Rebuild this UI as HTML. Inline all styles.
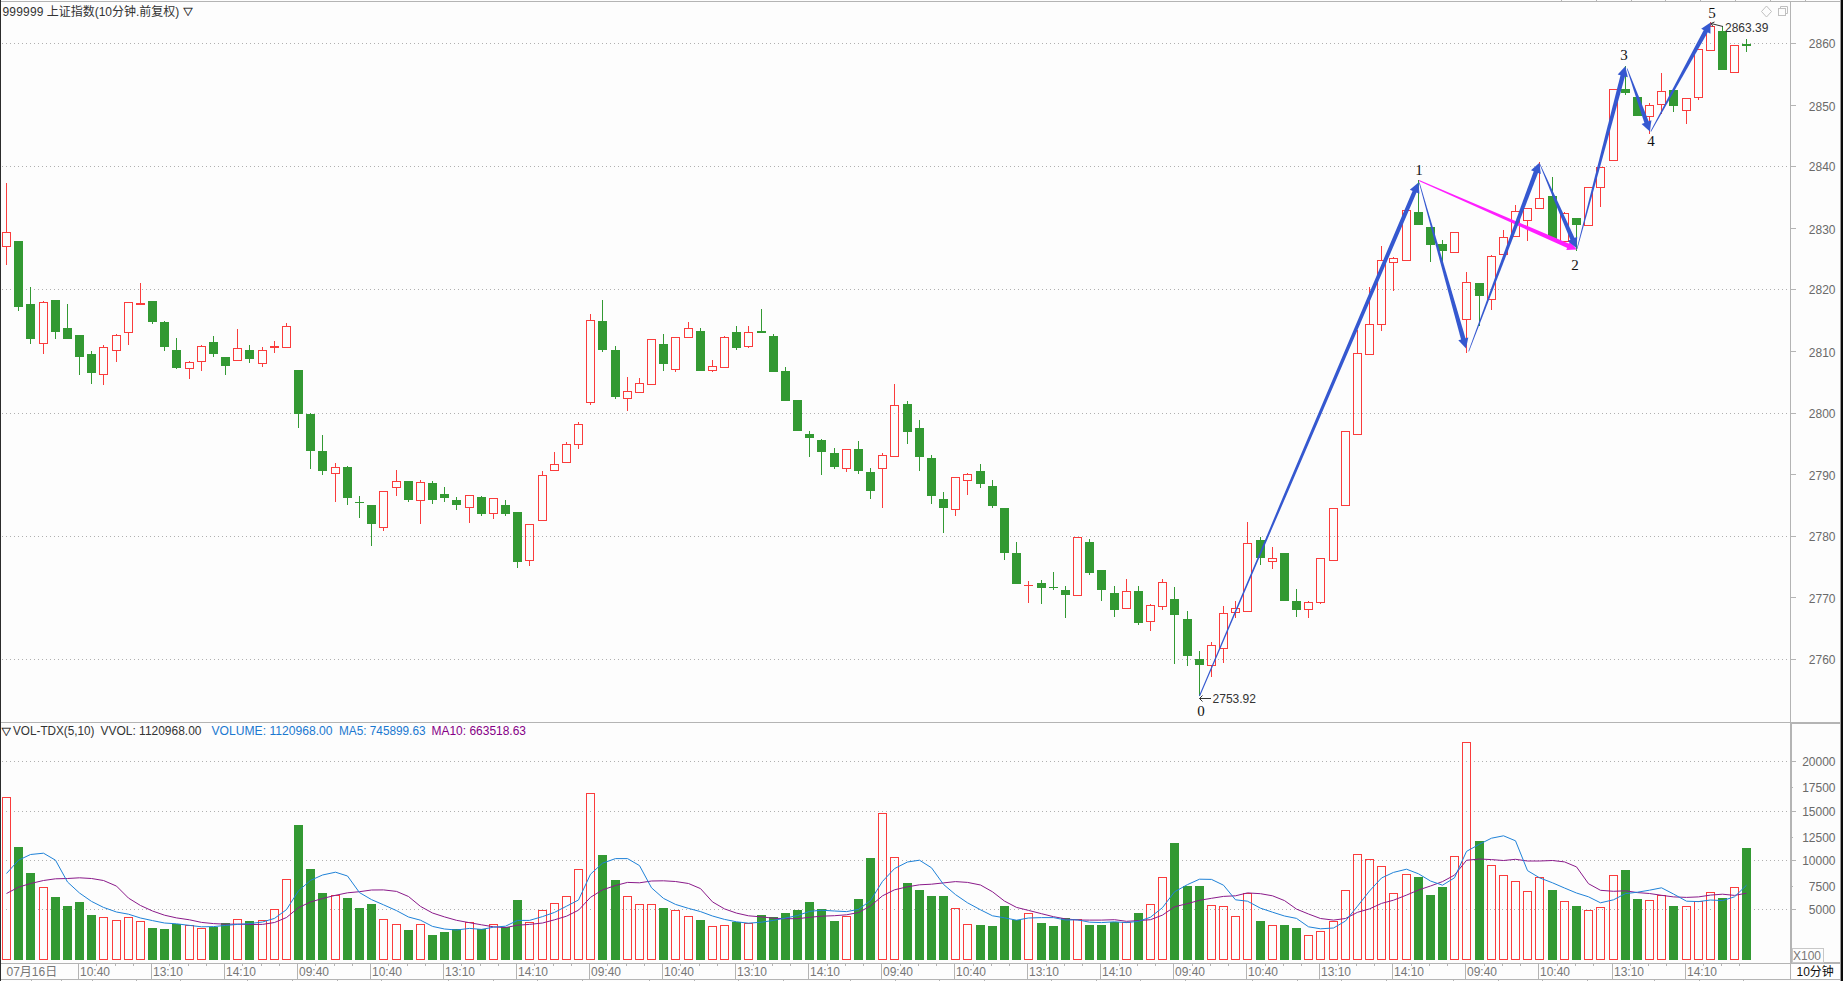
<!DOCTYPE html>
<html lang="zh-CN"><head><meta charset="utf-8"><title>999999 上证指数</title>
<style>html,body{margin:0;padding:0;background:#fdfdfd;width:1843px;height:981px;overflow:hidden}</style>
</head><body>
<svg width="1843" height="981" viewBox="0 0 1843 981" style="position:absolute;left:0;top:0;display:block">
<rect x="0" y="0" width="1843" height="981" fill="#fdfdfd"/>
<g stroke="#b0b0b0" stroke-width="1" stroke-dasharray="1 3" shape-rendering="crispEdges">
<line x1="2" y1="43.5" x2="1788" y2="43.5"/>
<line x1="2" y1="166.5" x2="1788" y2="166.5"/>
<line x1="2" y1="289.5" x2="1788" y2="289.5"/>
<line x1="2" y1="413.5" x2="1788" y2="413.5"/>
<line x1="2" y1="536.5" x2="1788" y2="536.5"/>
<line x1="2" y1="659.5" x2="1788" y2="659.5"/>
<line x1="2" y1="761.5" x2="1788" y2="761.5"/>
<line x1="2" y1="811.5" x2="1788" y2="811.5"/>
<line x1="2" y1="860.5" x2="1788" y2="860.5"/>
<line x1="2" y1="909.5" x2="1788" y2="909.5"/>
</g>
<g shape-rendering="crispEdges">
<rect x="0" y="0" width="1" height="981" fill="#2c2c2c"/>
<rect x="1" y="1" width="1840" height="1" fill="#b4b4b4"/>
<rect x="1790" y="2" width="1" height="720" fill="#b4b4b4"/>
<rect x="1790" y="722" width="2" height="241" fill="#b4b4b4"/>
<rect x="1790" y="963" width="1" height="17" fill="#b4b4b4"/>
<rect x="1" y="722" width="1790" height="1" fill="#b4b4b4"/>
<rect x="1790" y="722" width="51" height="2" fill="#b4b4b4"/>
<rect x="1" y="963" width="1790" height="1" fill="#b4b4b4"/>
<rect x="1790" y="962" width="51" height="2" fill="#b4b4b4"/>
<rect x="1" y="979" width="1840" height="1" fill="#b4b4b4"/>
<rect x="1840" y="0" width="1" height="981" fill="#9a9a9a"/>
<rect x="1841" y="0" width="2" height="981" fill="#0a0a0a"/>
<rect x="1791" y="43" width="5" height="1" fill="#b4b4b4"/>
<rect x="1791" y="105" width="5" height="1" fill="#b4b4b4"/>
<rect x="1791" y="166" width="5" height="1" fill="#b4b4b4"/>
<rect x="1791" y="228" width="5" height="1" fill="#b4b4b4"/>
<rect x="1791" y="289" width="5" height="1" fill="#b4b4b4"/>
<rect x="1791" y="351" width="5" height="1" fill="#b4b4b4"/>
<rect x="1791" y="413" width="5" height="1" fill="#b4b4b4"/>
<rect x="1791" y="474" width="5" height="1" fill="#b4b4b4"/>
<rect x="1791" y="536" width="5" height="1" fill="#b4b4b4"/>
<rect x="1791" y="597" width="5" height="1" fill="#b4b4b4"/>
<rect x="1791" y="659" width="5" height="1" fill="#b4b4b4"/>
<rect x="1792" y="761" width="4" height="1" fill="#b4b4b4"/>
<rect x="1792" y="787" width="1" height="1" fill="#b4b4b4"/>
<rect x="1792" y="811" width="4" height="1" fill="#b4b4b4"/>
<rect x="1792" y="837" width="1" height="1" fill="#b4b4b4"/>
<rect x="1792" y="860" width="4" height="1" fill="#b4b4b4"/>
<rect x="1792" y="886" width="1" height="1" fill="#b4b4b4"/>
<rect x="1792" y="909" width="4" height="1" fill="#b4b4b4"/>
<rect x="78" y="964" width="1" height="15" fill="#b4b4b4"/>
<rect x="151" y="964" width="1" height="15" fill="#b4b4b4"/>
<rect x="224" y="964" width="1" height="15" fill="#b4b4b4"/>
<rect x="297" y="964" width="1" height="15" fill="#b4b4b4"/>
<rect x="370" y="964" width="1" height="15" fill="#b4b4b4"/>
<rect x="443" y="964" width="1" height="15" fill="#b4b4b4"/>
<rect x="516" y="964" width="1" height="15" fill="#b4b4b4"/>
<rect x="589" y="964" width="1" height="15" fill="#b4b4b4"/>
<rect x="662" y="964" width="1" height="15" fill="#b4b4b4"/>
<rect x="735" y="964" width="1" height="15" fill="#b4b4b4"/>
<rect x="808" y="964" width="1" height="15" fill="#b4b4b4"/>
<rect x="881" y="964" width="1" height="15" fill="#b4b4b4"/>
<rect x="954" y="964" width="1" height="15" fill="#b4b4b4"/>
<rect x="1027" y="964" width="1" height="15" fill="#b4b4b4"/>
<rect x="1100" y="964" width="1" height="15" fill="#b4b4b4"/>
<rect x="1173" y="964" width="1" height="15" fill="#b4b4b4"/>
<rect x="1246" y="964" width="1" height="15" fill="#b4b4b4"/>
<rect x="1319" y="964" width="1" height="15" fill="#b4b4b4"/>
<rect x="1392" y="964" width="1" height="15" fill="#b4b4b4"/>
<rect x="1465" y="964" width="1" height="15" fill="#b4b4b4"/>
<rect x="1538" y="964" width="1" height="15" fill="#b4b4b4"/>
<rect x="1612" y="964" width="1" height="15" fill="#b4b4b4"/>
<rect x="1685" y="964" width="1" height="15" fill="#b4b4b4"/>
<rect x="96" y="964" width="1" height="2" fill="#b4b4b4"/>
<rect x="115" y="964" width="1" height="2" fill="#b4b4b4"/>
<rect x="133" y="964" width="1" height="2" fill="#b4b4b4"/>
<rect x="169" y="964" width="1" height="2" fill="#b4b4b4"/>
<rect x="188" y="964" width="1" height="2" fill="#b4b4b4"/>
<rect x="206" y="964" width="1" height="2" fill="#b4b4b4"/>
<rect x="242" y="964" width="1" height="2" fill="#b4b4b4"/>
<rect x="261" y="964" width="1" height="2" fill="#b4b4b4"/>
<rect x="279" y="964" width="1" height="2" fill="#b4b4b4"/>
<rect x="315" y="964" width="1" height="2" fill="#b4b4b4"/>
<rect x="334" y="964" width="1" height="2" fill="#b4b4b4"/>
<rect x="352" y="964" width="1" height="2" fill="#b4b4b4"/>
<rect x="388" y="964" width="1" height="2" fill="#b4b4b4"/>
<rect x="407" y="964" width="1" height="2" fill="#b4b4b4"/>
<rect x="425" y="964" width="1" height="2" fill="#b4b4b4"/>
<rect x="461" y="964" width="1" height="2" fill="#b4b4b4"/>
<rect x="480" y="964" width="1" height="2" fill="#b4b4b4"/>
<rect x="498" y="964" width="1" height="2" fill="#b4b4b4"/>
<rect x="534" y="964" width="1" height="2" fill="#b4b4b4"/>
<rect x="553" y="964" width="1" height="2" fill="#b4b4b4"/>
<rect x="571" y="964" width="1" height="2" fill="#b4b4b4"/>
<rect x="607" y="964" width="1" height="2" fill="#b4b4b4"/>
<rect x="626" y="964" width="1" height="2" fill="#b4b4b4"/>
<rect x="644" y="964" width="1" height="2" fill="#b4b4b4"/>
<rect x="680" y="964" width="1" height="2" fill="#b4b4b4"/>
<rect x="699" y="964" width="1" height="2" fill="#b4b4b4"/>
<rect x="717" y="964" width="1" height="2" fill="#b4b4b4"/>
<rect x="753" y="964" width="1" height="2" fill="#b4b4b4"/>
<rect x="772" y="964" width="1" height="2" fill="#b4b4b4"/>
<rect x="790" y="964" width="1" height="2" fill="#b4b4b4"/>
<rect x="827" y="964" width="1" height="2" fill="#b4b4b4"/>
<rect x="845" y="964" width="1" height="2" fill="#b4b4b4"/>
<rect x="863" y="964" width="1" height="2" fill="#b4b4b4"/>
<rect x="900" y="964" width="1" height="2" fill="#b4b4b4"/>
<rect x="918" y="964" width="1" height="2" fill="#b4b4b4"/>
<rect x="936" y="964" width="1" height="2" fill="#b4b4b4"/>
<rect x="973" y="964" width="1" height="2" fill="#b4b4b4"/>
<rect x="991" y="964" width="1" height="2" fill="#b4b4b4"/>
<rect x="1009" y="964" width="1" height="2" fill="#b4b4b4"/>
<rect x="1046" y="964" width="1" height="2" fill="#b4b4b4"/>
<rect x="1064" y="964" width="1" height="2" fill="#b4b4b4"/>
<rect x="1082" y="964" width="1" height="2" fill="#b4b4b4"/>
<rect x="1119" y="964" width="1" height="2" fill="#b4b4b4"/>
<rect x="1137" y="964" width="1" height="2" fill="#b4b4b4"/>
<rect x="1155" y="964" width="1" height="2" fill="#b4b4b4"/>
<rect x="1192" y="964" width="1" height="2" fill="#b4b4b4"/>
<rect x="1210" y="964" width="1" height="2" fill="#b4b4b4"/>
<rect x="1228" y="964" width="1" height="2" fill="#b4b4b4"/>
<rect x="1265" y="964" width="1" height="2" fill="#b4b4b4"/>
<rect x="1283" y="964" width="1" height="2" fill="#b4b4b4"/>
<rect x="1301" y="964" width="1" height="2" fill="#b4b4b4"/>
<rect x="1338" y="964" width="1" height="2" fill="#b4b4b4"/>
<rect x="1356" y="964" width="1" height="2" fill="#b4b4b4"/>
<rect x="1374" y="964" width="1" height="2" fill="#b4b4b4"/>
<rect x="1411" y="964" width="1" height="2" fill="#b4b4b4"/>
<rect x="1429" y="964" width="1" height="2" fill="#b4b4b4"/>
<rect x="1447" y="964" width="1" height="2" fill="#b4b4b4"/>
<rect x="1484" y="964" width="1" height="2" fill="#b4b4b4"/>
<rect x="1502" y="964" width="1" height="2" fill="#b4b4b4"/>
<rect x="1520" y="964" width="1" height="2" fill="#b4b4b4"/>
<rect x="1557" y="964" width="1" height="2" fill="#b4b4b4"/>
<rect x="1575" y="964" width="1" height="2" fill="#b4b4b4"/>
<rect x="1593" y="964" width="1" height="2" fill="#b4b4b4"/>
<rect x="1630" y="964" width="1" height="2" fill="#b4b4b4"/>
<rect x="1648" y="964" width="1" height="2" fill="#b4b4b4"/>
<rect x="1666" y="964" width="1" height="2" fill="#b4b4b4"/>
<rect x="1703" y="964" width="1" height="2" fill="#b4b4b4"/>
<rect x="1721" y="964" width="1" height="2" fill="#b4b4b4"/>
<rect x="1739" y="964" width="1" height="2" fill="#b4b4b4"/>
<rect x="31" y="980" width="1" height="1" fill="#b4b4b4"/>
<rect x="61" y="980" width="1" height="1" fill="#b4b4b4"/>
<rect x="92" y="980" width="1" height="1" fill="#b4b4b4"/>
<rect x="136" y="980" width="1" height="1" fill="#b4b4b4"/>
<rect x="180" y="980" width="1" height="1" fill="#b4b4b4"/>
<rect x="247" y="980" width="1" height="1" fill="#b4b4b4"/>
<rect x="292" y="980" width="1" height="1" fill="#b4b4b4"/>
<rect x="337" y="980" width="1" height="1" fill="#b4b4b4"/>
<rect x="381" y="980" width="1" height="1" fill="#b4b4b4"/>
<rect x="448" y="980" width="1" height="1" fill="#b4b4b4"/>
<rect x="493" y="980" width="1" height="1" fill="#b4b4b4"/>
<rect x="537" y="980" width="1" height="1" fill="#b4b4b4"/>
<rect x="582" y="980" width="1" height="1" fill="#b4b4b4"/>
<rect x="649" y="980" width="1" height="1" fill="#b4b4b4"/>
<rect x="694" y="980" width="1" height="1" fill="#b4b4b4"/>
<rect x="738" y="980" width="1" height="1" fill="#b4b4b4"/>
<rect x="783" y="980" width="1" height="1" fill="#b4b4b4"/>
<rect x="850" y="980" width="1" height="1" fill="#b4b4b4"/>
<rect x="895" y="980" width="1" height="1" fill="#b4b4b4"/>
<rect x="939" y="980" width="1" height="1" fill="#b4b4b4"/>
<rect x="984" y="980" width="1" height="1" fill="#b4b4b4"/>
<rect x="1051" y="980" width="1" height="1" fill="#b4b4b4"/>
<rect x="1096" y="980" width="1" height="1" fill="#b4b4b4"/>
<rect x="1140" y="980" width="1" height="1" fill="#b4b4b4"/>
<rect x="1185" y="980" width="1" height="1" fill="#b4b4b4"/>
<rect x="1252" y="980" width="1" height="1" fill="#b4b4b4"/>
<rect x="1297" y="980" width="1" height="1" fill="#b4b4b4"/>
<rect x="1341" y="980" width="1" height="1" fill="#b4b4b4"/>
<rect x="1386" y="980" width="1" height="1" fill="#b4b4b4"/>
<rect x="1453" y="980" width="1" height="1" fill="#b4b4b4"/>
<rect x="1498" y="980" width="1" height="1" fill="#b4b4b4"/>
<rect x="1542" y="980" width="1" height="1" fill="#b4b4b4"/>
<rect x="1587" y="980" width="1" height="1" fill="#b4b4b4"/>
<rect x="1654" y="980" width="1" height="1" fill="#b4b4b4"/>
<rect x="1699" y="980" width="1" height="1" fill="#b4b4b4"/>
<rect x="1743" y="980" width="1" height="1" fill="#b4b4b4"/>
<rect x="1561" y="0" width="1" height="1" fill="#b4b4b4"/>
<rect x="1596" y="0" width="1" height="1" fill="#b4b4b4"/>
<rect x="1631" y="0" width="1" height="1" fill="#b4b4b4"/>
<rect x="1665" y="0" width="1" height="1" fill="#b4b4b4"/>
<rect x="1700" y="0" width="1" height="1" fill="#b4b4b4"/>
<rect x="1735" y="0" width="1" height="1" fill="#b4b4b4"/>
<rect x="1770" y="0" width="1" height="1" fill="#b4b4b4"/>
<rect x="1805" y="0" width="1" height="1" fill="#b4b4b4"/>
<rect x="1792.5" y="948.5" width="31" height="14" fill="none" stroke="#c8c8c8" stroke-width="1"/>
</g>
<g shape-rendering="crispEdges">
<rect x="2.5" y="232.5" width="8" height="14" fill="none" stroke="#fa3c3c" stroke-width="1"/>
<rect x="6" y="183" width="1" height="49" fill="#fa3c3c"/>
<rect x="6" y="247" width="1" height="18" fill="#fa3c3c"/>
<rect x="14" y="241" width="9" height="66" fill="#339933"/>
<rect x="18" y="307" width="1" height="4" fill="#339933"/>
<rect x="26" y="304" width="9" height="35" fill="#339933"/>
<rect x="30" y="287" width="1" height="17" fill="#339933"/>
<rect x="30" y="339" width="1" height="5" fill="#339933"/>
<rect x="39.5" y="302.5" width="8" height="41" fill="none" stroke="#fa3c3c" stroke-width="1"/>
<rect x="43" y="301" width="1" height="1" fill="#fa3c3c"/>
<rect x="43" y="344" width="1" height="10" fill="#fa3c3c"/>
<rect x="51" y="300" width="9" height="32" fill="#339933"/>
<rect x="55" y="332" width="1" height="7" fill="#339933"/>
<rect x="63" y="328" width="9" height="11" fill="#339933"/>
<rect x="67" y="304" width="1" height="24" fill="#339933"/>
<rect x="75" y="335" width="9" height="22" fill="#339933"/>
<rect x="79" y="357" width="1" height="18" fill="#339933"/>
<rect x="87" y="354" width="9" height="19" fill="#339933"/>
<rect x="91" y="351" width="1" height="3" fill="#339933"/>
<rect x="91" y="373" width="1" height="11" fill="#339933"/>
<rect x="99.5" y="347.5" width="8" height="27" fill="none" stroke="#fa3c3c" stroke-width="1"/>
<rect x="103" y="345" width="1" height="2" fill="#fa3c3c"/>
<rect x="103" y="375" width="1" height="10" fill="#fa3c3c"/>
<rect x="112.5" y="335.5" width="8" height="15" fill="none" stroke="#fa3c3c" stroke-width="1"/>
<rect x="116" y="334" width="1" height="1" fill="#fa3c3c"/>
<rect x="116" y="351" width="1" height="11" fill="#fa3c3c"/>
<rect x="124.5" y="302.5" width="8" height="30" fill="none" stroke="#fa3c3c" stroke-width="1"/>
<rect x="128" y="333" width="1" height="12" fill="#fa3c3c"/>
<rect x="136" y="303" width="9" height="2" fill="#fa3c3c"/>
<rect x="140" y="283" width="1" height="20" fill="#fa3c3c"/>
<rect x="148" y="301" width="9" height="21" fill="#339933"/>
<rect x="152" y="322" width="1" height="2" fill="#339933"/>
<rect x="160" y="322" width="9" height="25" fill="#339933"/>
<rect x="164" y="321" width="1" height="1" fill="#339933"/>
<rect x="164" y="347" width="1" height="4" fill="#339933"/>
<rect x="172" y="350" width="9" height="18" fill="#339933"/>
<rect x="176" y="338" width="1" height="12" fill="#339933"/>
<rect x="176" y="368" width="1" height="1" fill="#339933"/>
<rect x="185.5" y="362.5" width="8" height="6" fill="none" stroke="#fa3c3c" stroke-width="1"/>
<rect x="189" y="361" width="1" height="1" fill="#fa3c3c"/>
<rect x="189" y="369" width="1" height="10" fill="#fa3c3c"/>
<rect x="197.5" y="346.5" width="8" height="15" fill="none" stroke="#fa3c3c" stroke-width="1"/>
<rect x="201" y="345" width="1" height="1" fill="#fa3c3c"/>
<rect x="201" y="362" width="1" height="9" fill="#fa3c3c"/>
<rect x="209" y="342" width="9" height="12" fill="#339933"/>
<rect x="213" y="336" width="1" height="6" fill="#339933"/>
<rect x="213" y="354" width="1" height="3" fill="#339933"/>
<rect x="221" y="357" width="9" height="9" fill="#339933"/>
<rect x="225" y="366" width="1" height="9" fill="#339933"/>
<rect x="233.5" y="348.5" width="8" height="12" fill="none" stroke="#fa3c3c" stroke-width="1"/>
<rect x="237" y="329" width="1" height="19" fill="#fa3c3c"/>
<rect x="245" y="350" width="9" height="9" fill="#339933"/>
<rect x="249" y="345" width="1" height="5" fill="#339933"/>
<rect x="249" y="359" width="1" height="4" fill="#339933"/>
<rect x="258.5" y="350.5" width="8" height="13" fill="none" stroke="#fa3c3c" stroke-width="1"/>
<rect x="262" y="347" width="1" height="3" fill="#fa3c3c"/>
<rect x="262" y="364" width="1" height="3" fill="#fa3c3c"/>
<rect x="270" y="346" width="9" height="2" fill="#fa3c3c"/>
<rect x="274" y="341" width="1" height="5" fill="#fa3c3c"/>
<rect x="274" y="348" width="1" height="5" fill="#fa3c3c"/>
<rect x="282.5" y="326.5" width="8" height="21" fill="none" stroke="#fa3c3c" stroke-width="1"/>
<rect x="286" y="323" width="1" height="3" fill="#fa3c3c"/>
<rect x="294" y="370" width="9" height="44" fill="#339933"/>
<rect x="298" y="414" width="1" height="14" fill="#339933"/>
<rect x="306" y="414" width="9" height="37" fill="#339933"/>
<rect x="310" y="413" width="1" height="1" fill="#339933"/>
<rect x="310" y="451" width="1" height="18" fill="#339933"/>
<rect x="318" y="451" width="9" height="20" fill="#339933"/>
<rect x="322" y="435" width="1" height="16" fill="#339933"/>
<rect x="322" y="471" width="1" height="4" fill="#339933"/>
<rect x="331.5" y="467.5" width="8" height="6" fill="none" stroke="#fa3c3c" stroke-width="1"/>
<rect x="335" y="463" width="1" height="4" fill="#fa3c3c"/>
<rect x="335" y="474" width="1" height="28" fill="#fa3c3c"/>
<rect x="343" y="467" width="9" height="31" fill="#339933"/>
<rect x="347" y="466" width="1" height="1" fill="#339933"/>
<rect x="347" y="498" width="1" height="7" fill="#339933"/>
<rect x="355" y="502" width="9" height="1" fill="#339933"/>
<rect x="359" y="496" width="1" height="6" fill="#339933"/>
<rect x="359" y="503" width="1" height="15" fill="#339933"/>
<rect x="367" y="505" width="9" height="19" fill="#339933"/>
<rect x="371" y="524" width="1" height="22" fill="#339933"/>
<rect x="379.5" y="491.5" width="8" height="36" fill="none" stroke="#fa3c3c" stroke-width="1"/>
<rect x="383" y="528" width="1" height="3" fill="#fa3c3c"/>
<rect x="392.5" y="481.5" width="8" height="6" fill="none" stroke="#fa3c3c" stroke-width="1"/>
<rect x="396" y="470" width="1" height="11" fill="#fa3c3c"/>
<rect x="396" y="488" width="1" height="8" fill="#fa3c3c"/>
<rect x="404" y="481" width="9" height="19" fill="#339933"/>
<rect x="408" y="500" width="1" height="2" fill="#339933"/>
<rect x="416.5" y="482.5" width="8" height="18" fill="none" stroke="#fa3c3c" stroke-width="1"/>
<rect x="420" y="480" width="1" height="2" fill="#fa3c3c"/>
<rect x="420" y="501" width="1" height="23" fill="#fa3c3c"/>
<rect x="428" y="483" width="9" height="17" fill="#339933"/>
<rect x="432" y="481" width="1" height="2" fill="#339933"/>
<rect x="432" y="500" width="1" height="4" fill="#339933"/>
<rect x="440" y="494" width="9" height="4" fill="#339933"/>
<rect x="444" y="487" width="1" height="7" fill="#339933"/>
<rect x="444" y="498" width="1" height="4" fill="#339933"/>
<rect x="452" y="500" width="9" height="5" fill="#339933"/>
<rect x="456" y="497" width="1" height="3" fill="#339933"/>
<rect x="456" y="505" width="1" height="5" fill="#339933"/>
<rect x="465.5" y="495.5" width="8" height="12" fill="none" stroke="#fa3c3c" stroke-width="1"/>
<rect x="469" y="508" width="1" height="15" fill="#fa3c3c"/>
<rect x="477" y="497" width="9" height="17" fill="#339933"/>
<rect x="481" y="496" width="1" height="1" fill="#339933"/>
<rect x="481" y="514" width="1" height="2" fill="#339933"/>
<rect x="489.5" y="498.5" width="8" height="15" fill="none" stroke="#fa3c3c" stroke-width="1"/>
<rect x="493" y="514" width="1" height="5" fill="#fa3c3c"/>
<rect x="501" y="505" width="9" height="9" fill="#339933"/>
<rect x="505" y="500" width="1" height="5" fill="#339933"/>
<rect x="505" y="514" width="1" height="2" fill="#339933"/>
<rect x="513" y="512" width="9" height="50" fill="#339933"/>
<rect x="517" y="562" width="1" height="6" fill="#339933"/>
<rect x="525.5" y="524.5" width="8" height="36" fill="none" stroke="#fa3c3c" stroke-width="1"/>
<rect x="529" y="561" width="1" height="5" fill="#fa3c3c"/>
<rect x="538.5" y="475.5" width="8" height="45" fill="none" stroke="#fa3c3c" stroke-width="1"/>
<rect x="542" y="471" width="1" height="4" fill="#fa3c3c"/>
<rect x="550.5" y="464.5" width="8" height="6" fill="none" stroke="#fa3c3c" stroke-width="1"/>
<rect x="554" y="452" width="1" height="12" fill="#fa3c3c"/>
<rect x="562.5" y="444.5" width="8" height="18" fill="none" stroke="#fa3c3c" stroke-width="1"/>
<rect x="566" y="442" width="1" height="2" fill="#fa3c3c"/>
<rect x="574.5" y="424.5" width="8" height="20" fill="none" stroke="#fa3c3c" stroke-width="1"/>
<rect x="578" y="422" width="1" height="2" fill="#fa3c3c"/>
<rect x="578" y="445" width="1" height="4" fill="#fa3c3c"/>
<rect x="586.5" y="320.5" width="8" height="82" fill="none" stroke="#fa3c3c" stroke-width="1"/>
<rect x="590" y="314" width="1" height="6" fill="#fa3c3c"/>
<rect x="590" y="403" width="1" height="2" fill="#fa3c3c"/>
<rect x="598" y="321" width="9" height="29" fill="#339933"/>
<rect x="602" y="300" width="1" height="21" fill="#339933"/>
<rect x="602" y="350" width="1" height="2" fill="#339933"/>
<rect x="611" y="350" width="9" height="47" fill="#339933"/>
<rect x="615" y="346" width="1" height="4" fill="#339933"/>
<rect x="615" y="397" width="1" height="2" fill="#339933"/>
<rect x="623.5" y="391.5" width="8" height="7" fill="none" stroke="#fa3c3c" stroke-width="1"/>
<rect x="627" y="377" width="1" height="14" fill="#fa3c3c"/>
<rect x="627" y="399" width="1" height="12" fill="#fa3c3c"/>
<rect x="635.5" y="383.5" width="8" height="9" fill="none" stroke="#fa3c3c" stroke-width="1"/>
<rect x="639" y="378" width="1" height="5" fill="#fa3c3c"/>
<rect x="647.5" y="339.5" width="8" height="45" fill="none" stroke="#fa3c3c" stroke-width="1"/>
<rect x="659" y="344" width="9" height="20" fill="#339933"/>
<rect x="663" y="334" width="1" height="10" fill="#339933"/>
<rect x="663" y="364" width="1" height="7" fill="#339933"/>
<rect x="671.5" y="337.5" width="8" height="32" fill="none" stroke="#fa3c3c" stroke-width="1"/>
<rect x="675" y="370" width="1" height="2" fill="#fa3c3c"/>
<rect x="684.5" y="328.5" width="8" height="9" fill="none" stroke="#fa3c3c" stroke-width="1"/>
<rect x="688" y="322" width="1" height="6" fill="#fa3c3c"/>
<rect x="696" y="331" width="9" height="40" fill="#339933"/>
<rect x="700" y="328" width="1" height="3" fill="#339933"/>
<rect x="708.5" y="366.5" width="8" height="4" fill="none" stroke="#fa3c3c" stroke-width="1"/>
<rect x="712" y="360" width="1" height="6" fill="#fa3c3c"/>
<rect x="712" y="371" width="1" height="1" fill="#fa3c3c"/>
<rect x="720.5" y="337.5" width="8" height="30" fill="none" stroke="#fa3c3c" stroke-width="1"/>
<rect x="724" y="336" width="1" height="1" fill="#fa3c3c"/>
<rect x="732" y="332" width="9" height="16" fill="#339933"/>
<rect x="736" y="326" width="1" height="6" fill="#339933"/>
<rect x="736" y="348" width="1" height="2" fill="#339933"/>
<rect x="744.5" y="332.5" width="8" height="14" fill="none" stroke="#fa3c3c" stroke-width="1"/>
<rect x="748" y="326" width="1" height="6" fill="#fa3c3c"/>
<rect x="748" y="347" width="1" height="1" fill="#fa3c3c"/>
<rect x="757" y="331" width="9" height="2" fill="#339933"/>
<rect x="761" y="309" width="1" height="22" fill="#339933"/>
<rect x="769" y="336" width="9" height="36" fill="#339933"/>
<rect x="773" y="334" width="1" height="2" fill="#339933"/>
<rect x="781" y="371" width="9" height="30" fill="#339933"/>
<rect x="785" y="367" width="1" height="4" fill="#339933"/>
<rect x="793" y="400" width="9" height="31" fill="#339933"/>
<rect x="805" y="434" width="9" height="4" fill="#339933"/>
<rect x="809" y="431" width="1" height="3" fill="#339933"/>
<rect x="809" y="438" width="1" height="19" fill="#339933"/>
<rect x="817" y="440" width="9" height="12" fill="#339933"/>
<rect x="821" y="439" width="1" height="1" fill="#339933"/>
<rect x="821" y="452" width="1" height="23" fill="#339933"/>
<rect x="830" y="453" width="9" height="14" fill="#339933"/>
<rect x="834" y="448" width="1" height="5" fill="#339933"/>
<rect x="834" y="467" width="1" height="2" fill="#339933"/>
<rect x="842.5" y="449.5" width="8" height="19" fill="none" stroke="#fa3c3c" stroke-width="1"/>
<rect x="846" y="469" width="1" height="3" fill="#fa3c3c"/>
<rect x="854" y="449" width="9" height="22" fill="#339933"/>
<rect x="858" y="441" width="1" height="8" fill="#339933"/>
<rect x="858" y="471" width="1" height="3" fill="#339933"/>
<rect x="866" y="472" width="9" height="19" fill="#339933"/>
<rect x="870" y="468" width="1" height="4" fill="#339933"/>
<rect x="870" y="491" width="1" height="8" fill="#339933"/>
<rect x="878.5" y="455.5" width="8" height="13" fill="none" stroke="#fa3c3c" stroke-width="1"/>
<rect x="882" y="453" width="1" height="2" fill="#fa3c3c"/>
<rect x="882" y="469" width="1" height="39" fill="#fa3c3c"/>
<rect x="890.5" y="405.5" width="8" height="51" fill="none" stroke="#fa3c3c" stroke-width="1"/>
<rect x="894" y="384" width="1" height="21" fill="#fa3c3c"/>
<rect x="903" y="404" width="9" height="28" fill="#339933"/>
<rect x="907" y="401" width="1" height="3" fill="#339933"/>
<rect x="907" y="432" width="1" height="12" fill="#339933"/>
<rect x="915" y="428" width="9" height="29" fill="#339933"/>
<rect x="919" y="420" width="1" height="8" fill="#339933"/>
<rect x="919" y="457" width="1" height="14" fill="#339933"/>
<rect x="927" y="458" width="9" height="38" fill="#339933"/>
<rect x="931" y="455" width="1" height="3" fill="#339933"/>
<rect x="931" y="496" width="1" height="8" fill="#339933"/>
<rect x="939" y="499" width="9" height="9" fill="#339933"/>
<rect x="943" y="492" width="1" height="7" fill="#339933"/>
<rect x="943" y="508" width="1" height="25" fill="#339933"/>
<rect x="951.5" y="477.5" width="8" height="32" fill="none" stroke="#fa3c3c" stroke-width="1"/>
<rect x="955" y="510" width="1" height="6" fill="#fa3c3c"/>
<rect x="963.5" y="474.5" width="8" height="6" fill="none" stroke="#fa3c3c" stroke-width="1"/>
<rect x="967" y="473" width="1" height="1" fill="#fa3c3c"/>
<rect x="967" y="481" width="1" height="14" fill="#fa3c3c"/>
<rect x="976" y="471" width="9" height="13" fill="#339933"/>
<rect x="980" y="464" width="1" height="7" fill="#339933"/>
<rect x="980" y="484" width="1" height="4" fill="#339933"/>
<rect x="988" y="486" width="9" height="20" fill="#339933"/>
<rect x="992" y="480" width="1" height="6" fill="#339933"/>
<rect x="992" y="506" width="1" height="2" fill="#339933"/>
<rect x="1000" y="508" width="9" height="45" fill="#339933"/>
<rect x="1004" y="553" width="1" height="7" fill="#339933"/>
<rect x="1012" y="553" width="9" height="31" fill="#339933"/>
<rect x="1016" y="542" width="1" height="11" fill="#339933"/>
<rect x="1024" y="585" width="9" height="1" fill="#fa3c3c"/>
<rect x="1028" y="581" width="1" height="4" fill="#fa3c3c"/>
<rect x="1028" y="586" width="1" height="17" fill="#fa3c3c"/>
<rect x="1037" y="583" width="9" height="5" fill="#339933"/>
<rect x="1041" y="580" width="1" height="3" fill="#339933"/>
<rect x="1041" y="588" width="1" height="16" fill="#339933"/>
<rect x="1049" y="587" width="9" height="1" fill="#339933"/>
<rect x="1053" y="572" width="1" height="15" fill="#339933"/>
<rect x="1053" y="588" width="1" height="2" fill="#339933"/>
<rect x="1061" y="590" width="9" height="5" fill="#339933"/>
<rect x="1065" y="586" width="1" height="4" fill="#339933"/>
<rect x="1065" y="595" width="1" height="23" fill="#339933"/>
<rect x="1073.5" y="537.5" width="8" height="58" fill="none" stroke="#fa3c3c" stroke-width="1"/>
<rect x="1085" y="542" width="9" height="31" fill="#339933"/>
<rect x="1089" y="539" width="1" height="3" fill="#339933"/>
<rect x="1089" y="573" width="1" height="2" fill="#339933"/>
<rect x="1097" y="570" width="9" height="20" fill="#339933"/>
<rect x="1101" y="590" width="1" height="11" fill="#339933"/>
<rect x="1110" y="593" width="9" height="17" fill="#339933"/>
<rect x="1114" y="586" width="1" height="7" fill="#339933"/>
<rect x="1114" y="610" width="1" height="7" fill="#339933"/>
<rect x="1122.5" y="591.5" width="8" height="17" fill="none" stroke="#fa3c3c" stroke-width="1"/>
<rect x="1126" y="579" width="1" height="12" fill="#fa3c3c"/>
<rect x="1134" y="591" width="9" height="32" fill="#339933"/>
<rect x="1138" y="586" width="1" height="5" fill="#339933"/>
<rect x="1138" y="623" width="1" height="2" fill="#339933"/>
<rect x="1146.5" y="605.5" width="8" height="16" fill="none" stroke="#fa3c3c" stroke-width="1"/>
<rect x="1150" y="604" width="1" height="1" fill="#fa3c3c"/>
<rect x="1150" y="622" width="1" height="9" fill="#fa3c3c"/>
<rect x="1158.5" y="582.5" width="8" height="24" fill="none" stroke="#fa3c3c" stroke-width="1"/>
<rect x="1162" y="579" width="1" height="3" fill="#fa3c3c"/>
<rect x="1162" y="607" width="1" height="3" fill="#fa3c3c"/>
<rect x="1170" y="599" width="9" height="16" fill="#339933"/>
<rect x="1174" y="587" width="1" height="12" fill="#339933"/>
<rect x="1174" y="615" width="1" height="49" fill="#339933"/>
<rect x="1183" y="619" width="9" height="37" fill="#339933"/>
<rect x="1187" y="611" width="1" height="8" fill="#339933"/>
<rect x="1187" y="656" width="1" height="10" fill="#339933"/>
<rect x="1195" y="659" width="9" height="6" fill="#339933"/>
<rect x="1199" y="651" width="1" height="8" fill="#339933"/>
<rect x="1199" y="665" width="1" height="31" fill="#339933"/>
<rect x="1207.5" y="645.5" width="8" height="20" fill="none" stroke="#fa3c3c" stroke-width="1"/>
<rect x="1211" y="642" width="1" height="3" fill="#fa3c3c"/>
<rect x="1211" y="666" width="1" height="11" fill="#fa3c3c"/>
<rect x="1219.5" y="613.5" width="8" height="35" fill="none" stroke="#fa3c3c" stroke-width="1"/>
<rect x="1223" y="606" width="1" height="7" fill="#fa3c3c"/>
<rect x="1223" y="649" width="1" height="14" fill="#fa3c3c"/>
<rect x="1231.5" y="608.5" width="8" height="4" fill="none" stroke="#fa3c3c" stroke-width="1"/>
<rect x="1235" y="601" width="1" height="7" fill="#fa3c3c"/>
<rect x="1235" y="613" width="1" height="5" fill="#fa3c3c"/>
<rect x="1243.5" y="543.5" width="8" height="68" fill="none" stroke="#fa3c3c" stroke-width="1"/>
<rect x="1247" y="522" width="1" height="21" fill="#fa3c3c"/>
<rect x="1256" y="540" width="9" height="18" fill="#339933"/>
<rect x="1260" y="537" width="1" height="3" fill="#339933"/>
<rect x="1260" y="558" width="1" height="7" fill="#339933"/>
<rect x="1268.5" y="558.5" width="8" height="3" fill="none" stroke="#fa3c3c" stroke-width="1"/>
<rect x="1272" y="547" width="1" height="11" fill="#fa3c3c"/>
<rect x="1272" y="562" width="1" height="7" fill="#fa3c3c"/>
<rect x="1280" y="553" width="9" height="48" fill="#339933"/>
<rect x="1292" y="601" width="9" height="9" fill="#339933"/>
<rect x="1296" y="589" width="1" height="12" fill="#339933"/>
<rect x="1296" y="610" width="1" height="7" fill="#339933"/>
<rect x="1304.5" y="602.5" width="8" height="7" fill="none" stroke="#fa3c3c" stroke-width="1"/>
<rect x="1308" y="601" width="1" height="1" fill="#fa3c3c"/>
<rect x="1308" y="610" width="1" height="8" fill="#fa3c3c"/>
<rect x="1316.5" y="558.5" width="8" height="44" fill="none" stroke="#fa3c3c" stroke-width="1"/>
<rect x="1320" y="603" width="1" height="1" fill="#fa3c3c"/>
<rect x="1329.5" y="508.5" width="8" height="52" fill="none" stroke="#fa3c3c" stroke-width="1"/>
<rect x="1341.5" y="431.5" width="8" height="74" fill="none" stroke="#fa3c3c" stroke-width="1"/>
<rect x="1353.5" y="353.5" width="8" height="81" fill="none" stroke="#fa3c3c" stroke-width="1"/>
<rect x="1357" y="330" width="1" height="23" fill="#fa3c3c"/>
<rect x="1365.5" y="324.5" width="8" height="30" fill="none" stroke="#fa3c3c" stroke-width="1"/>
<rect x="1369" y="287" width="1" height="37" fill="#fa3c3c"/>
<rect x="1377.5" y="260.5" width="8" height="64" fill="none" stroke="#fa3c3c" stroke-width="1"/>
<rect x="1381" y="246" width="1" height="14" fill="#fa3c3c"/>
<rect x="1381" y="325" width="1" height="6" fill="#fa3c3c"/>
<rect x="1389.5" y="258.5" width="8" height="4" fill="none" stroke="#fa3c3c" stroke-width="1"/>
<rect x="1393" y="257" width="1" height="1" fill="#fa3c3c"/>
<rect x="1393" y="263" width="1" height="28" fill="#fa3c3c"/>
<rect x="1402.5" y="210.5" width="8" height="50" fill="none" stroke="#fa3c3c" stroke-width="1"/>
<rect x="1414" y="212" width="9" height="13" fill="#339933"/>
<rect x="1418" y="180" width="1" height="32" fill="#339933"/>
<rect x="1426" y="227" width="9" height="18" fill="#339933"/>
<rect x="1430" y="245" width="1" height="17" fill="#339933"/>
<rect x="1438" y="244" width="9" height="7" fill="#339933"/>
<rect x="1442" y="240" width="1" height="4" fill="#339933"/>
<rect x="1442" y="251" width="1" height="11" fill="#339933"/>
<rect x="1450.5" y="232.5" width="8" height="20" fill="none" stroke="#fa3c3c" stroke-width="1"/>
<rect x="1462.5" y="282.5" width="8" height="37" fill="none" stroke="#fa3c3c" stroke-width="1"/>
<rect x="1466" y="272" width="1" height="10" fill="#fa3c3c"/>
<rect x="1466" y="320" width="1" height="33" fill="#fa3c3c"/>
<rect x="1475" y="283" width="9" height="13" fill="#339933"/>
<rect x="1479" y="296" width="1" height="30" fill="#339933"/>
<rect x="1487.5" y="256.5" width="8" height="43" fill="none" stroke="#fa3c3c" stroke-width="1"/>
<rect x="1491" y="255" width="1" height="1" fill="#fa3c3c"/>
<rect x="1491" y="300" width="1" height="10" fill="#fa3c3c"/>
<rect x="1499.5" y="237.5" width="8" height="17" fill="none" stroke="#fa3c3c" stroke-width="1"/>
<rect x="1503" y="230" width="1" height="7" fill="#fa3c3c"/>
<rect x="1511.5" y="211.5" width="8" height="25" fill="none" stroke="#fa3c3c" stroke-width="1"/>
<rect x="1515" y="205" width="1" height="6" fill="#fa3c3c"/>
<rect x="1523.5" y="208.5" width="8" height="12" fill="none" stroke="#fa3c3c" stroke-width="1"/>
<rect x="1527" y="221" width="1" height="20" fill="#fa3c3c"/>
<rect x="1535.5" y="198.5" width="8" height="10" fill="none" stroke="#fa3c3c" stroke-width="1"/>
<rect x="1539" y="162" width="1" height="36" fill="#fa3c3c"/>
<rect x="1548" y="196" width="9" height="43" fill="#339933"/>
<rect x="1552" y="177" width="1" height="19" fill="#339933"/>
<rect x="1560.5" y="213.5" width="8" height="28" fill="none" stroke="#fa3c3c" stroke-width="1"/>
<rect x="1564" y="212" width="1" height="1" fill="#fa3c3c"/>
<rect x="1572" y="218" width="9" height="7" fill="#339933"/>
<rect x="1576" y="225" width="1" height="26" fill="#339933"/>
<rect x="1584.5" y="187.5" width="8" height="38" fill="none" stroke="#fa3c3c" stroke-width="1"/>
<rect x="1596.5" y="167.5" width="8" height="20" fill="none" stroke="#fa3c3c" stroke-width="1"/>
<rect x="1600" y="188" width="1" height="19" fill="#fa3c3c"/>
<rect x="1609.5" y="89.5" width="8" height="71" fill="none" stroke="#fa3c3c" stroke-width="1"/>
<rect x="1621" y="89" width="9" height="4" fill="#339933"/>
<rect x="1625" y="66" width="1" height="23" fill="#339933"/>
<rect x="1625" y="93" width="1" height="2" fill="#339933"/>
<rect x="1633" y="97" width="9" height="19" fill="#339933"/>
<rect x="1645.5" y="105.5" width="8" height="11" fill="none" stroke="#fa3c3c" stroke-width="1"/>
<rect x="1649" y="103" width="1" height="2" fill="#fa3c3c"/>
<rect x="1649" y="117" width="1" height="17" fill="#fa3c3c"/>
<rect x="1657.5" y="91.5" width="8" height="13" fill="none" stroke="#fa3c3c" stroke-width="1"/>
<rect x="1661" y="73" width="1" height="18" fill="#fa3c3c"/>
<rect x="1661" y="105" width="1" height="9" fill="#fa3c3c"/>
<rect x="1669" y="90" width="9" height="16" fill="#339933"/>
<rect x="1673" y="106" width="1" height="6" fill="#339933"/>
<rect x="1682.5" y="98.5" width="8" height="12" fill="none" stroke="#fa3c3c" stroke-width="1"/>
<rect x="1686" y="111" width="1" height="13" fill="#fa3c3c"/>
<rect x="1694.5" y="49.5" width="8" height="48" fill="none" stroke="#fa3c3c" stroke-width="1"/>
<rect x="1698" y="98" width="1" height="2" fill="#fa3c3c"/>
<rect x="1706.5" y="26.5" width="8" height="24" fill="none" stroke="#fa3c3c" stroke-width="1"/>
<rect x="1710" y="22" width="1" height="4" fill="#fa3c3c"/>
<rect x="1718" y="31" width="9" height="39" fill="#339933"/>
<rect x="1722" y="26" width="1" height="5" fill="#339933"/>
<rect x="1730.5" y="45.5" width="8" height="27" fill="none" stroke="#fa3c3c" stroke-width="1"/>
<rect x="1742" y="44" width="9" height="2" fill="#339933"/>
<rect x="1746" y="39" width="1" height="5" fill="#339933"/>
<rect x="1746" y="46" width="1" height="6" fill="#339933"/>
<rect x="2.5" y="797.5" width="8" height="162" fill="none" stroke="#fa3c3c" stroke-width="1"/>
<rect x="14" y="847" width="9" height="113" fill="#339933"/>
<rect x="26" y="873" width="9" height="87" fill="#339933"/>
<rect x="39.5" y="887.5" width="8" height="72" fill="none" stroke="#fa3c3c" stroke-width="1"/>
<rect x="51" y="897" width="9" height="63" fill="#339933"/>
<rect x="63" y="906" width="9" height="54" fill="#339933"/>
<rect x="75" y="902" width="9" height="58" fill="#339933"/>
<rect x="87" y="915" width="9" height="45" fill="#339933"/>
<rect x="99.5" y="917.5" width="8" height="42" fill="none" stroke="#fa3c3c" stroke-width="1"/>
<rect x="112.5" y="920.5" width="8" height="39" fill="none" stroke="#fa3c3c" stroke-width="1"/>
<rect x="124.5" y="917.5" width="8" height="42" fill="none" stroke="#fa3c3c" stroke-width="1"/>
<rect x="136.5" y="921.5" width="8" height="38" fill="none" stroke="#fa3c3c" stroke-width="1"/>
<rect x="148" y="928" width="9" height="32" fill="#339933"/>
<rect x="160" y="929" width="9" height="31" fill="#339933"/>
<rect x="172" y="924" width="9" height="36" fill="#339933"/>
<rect x="185.5" y="925.5" width="8" height="34" fill="none" stroke="#fa3c3c" stroke-width="1"/>
<rect x="197.5" y="928.5" width="8" height="31" fill="none" stroke="#fa3c3c" stroke-width="1"/>
<rect x="209" y="927" width="9" height="33" fill="#339933"/>
<rect x="221" y="923" width="9" height="37" fill="#339933"/>
<rect x="233.5" y="919.5" width="8" height="40" fill="none" stroke="#fa3c3c" stroke-width="1"/>
<rect x="245" y="921" width="9" height="39" fill="#339933"/>
<rect x="258.5" y="920.5" width="8" height="39" fill="none" stroke="#fa3c3c" stroke-width="1"/>
<rect x="270.5" y="909.5" width="8" height="50" fill="none" stroke="#fa3c3c" stroke-width="1"/>
<rect x="282.5" y="879.5" width="8" height="80" fill="none" stroke="#fa3c3c" stroke-width="1"/>
<rect x="294" y="825" width="9" height="135" fill="#339933"/>
<rect x="306" y="869" width="9" height="91" fill="#339933"/>
<rect x="318" y="893" width="9" height="67" fill="#339933"/>
<rect x="331.5" y="895.5" width="8" height="64" fill="none" stroke="#fa3c3c" stroke-width="1"/>
<rect x="343" y="898" width="9" height="62" fill="#339933"/>
<rect x="355" y="908" width="9" height="52" fill="#339933"/>
<rect x="367" y="904" width="9" height="56" fill="#339933"/>
<rect x="379.5" y="919.5" width="8" height="40" fill="none" stroke="#fa3c3c" stroke-width="1"/>
<rect x="392.5" y="924.5" width="8" height="35" fill="none" stroke="#fa3c3c" stroke-width="1"/>
<rect x="404" y="930" width="9" height="30" fill="#339933"/>
<rect x="416.5" y="924.5" width="8" height="35" fill="none" stroke="#fa3c3c" stroke-width="1"/>
<rect x="428" y="935" width="9" height="25" fill="#339933"/>
<rect x="440" y="932" width="9" height="28" fill="#339933"/>
<rect x="452" y="929" width="9" height="31" fill="#339933"/>
<rect x="465.5" y="922.5" width="8" height="37" fill="none" stroke="#fa3c3c" stroke-width="1"/>
<rect x="477" y="929" width="9" height="31" fill="#339933"/>
<rect x="489.5" y="924.5" width="8" height="35" fill="none" stroke="#fa3c3c" stroke-width="1"/>
<rect x="501" y="927" width="9" height="33" fill="#339933"/>
<rect x="513" y="900" width="9" height="60" fill="#339933"/>
<rect x="525.5" y="922.5" width="8" height="37" fill="none" stroke="#fa3c3c" stroke-width="1"/>
<rect x="538.5" y="910.5" width="8" height="49" fill="none" stroke="#fa3c3c" stroke-width="1"/>
<rect x="550.5" y="903.5" width="8" height="56" fill="none" stroke="#fa3c3c" stroke-width="1"/>
<rect x="562.5" y="896.5" width="8" height="63" fill="none" stroke="#fa3c3c" stroke-width="1"/>
<rect x="574.5" y="869.5" width="8" height="90" fill="none" stroke="#fa3c3c" stroke-width="1"/>
<rect x="586.5" y="793.5" width="8" height="166" fill="none" stroke="#fa3c3c" stroke-width="1"/>
<rect x="598" y="855" width="9" height="105" fill="#339933"/>
<rect x="611" y="880" width="9" height="80" fill="#339933"/>
<rect x="623.5" y="896.5" width="8" height="63" fill="none" stroke="#fa3c3c" stroke-width="1"/>
<rect x="635.5" y="904.5" width="8" height="55" fill="none" stroke="#fa3c3c" stroke-width="1"/>
<rect x="647.5" y="904.5" width="8" height="55" fill="none" stroke="#fa3c3c" stroke-width="1"/>
<rect x="659" y="908" width="9" height="52" fill="#339933"/>
<rect x="671.5" y="910.5" width="8" height="49" fill="none" stroke="#fa3c3c" stroke-width="1"/>
<rect x="684.5" y="916.5" width="8" height="43" fill="none" stroke="#fa3c3c" stroke-width="1"/>
<rect x="696" y="920" width="9" height="40" fill="#339933"/>
<rect x="708.5" y="926.5" width="8" height="33" fill="none" stroke="#fa3c3c" stroke-width="1"/>
<rect x="720.5" y="925.5" width="8" height="34" fill="none" stroke="#fa3c3c" stroke-width="1"/>
<rect x="732" y="922" width="9" height="38" fill="#339933"/>
<rect x="744.5" y="923.5" width="8" height="36" fill="none" stroke="#fa3c3c" stroke-width="1"/>
<rect x="757" y="915" width="9" height="45" fill="#339933"/>
<rect x="769" y="917" width="9" height="43" fill="#339933"/>
<rect x="781" y="913" width="9" height="47" fill="#339933"/>
<rect x="793" y="910" width="9" height="50" fill="#339933"/>
<rect x="805" y="902" width="9" height="58" fill="#339933"/>
<rect x="817" y="909" width="9" height="51" fill="#339933"/>
<rect x="830" y="921" width="9" height="39" fill="#339933"/>
<rect x="842.5" y="916.5" width="8" height="43" fill="none" stroke="#fa3c3c" stroke-width="1"/>
<rect x="854" y="899" width="9" height="61" fill="#339933"/>
<rect x="866" y="858" width="9" height="102" fill="#339933"/>
<rect x="878.5" y="813.5" width="8" height="146" fill="none" stroke="#fa3c3c" stroke-width="1"/>
<rect x="890.5" y="857.5" width="8" height="102" fill="none" stroke="#fa3c3c" stroke-width="1"/>
<rect x="903" y="883" width="9" height="77" fill="#339933"/>
<rect x="915" y="890" width="9" height="70" fill="#339933"/>
<rect x="927" y="896" width="9" height="64" fill="#339933"/>
<rect x="939" y="896" width="9" height="64" fill="#339933"/>
<rect x="951.5" y="908.5" width="8" height="51" fill="none" stroke="#fa3c3c" stroke-width="1"/>
<rect x="963.5" y="924.5" width="8" height="35" fill="none" stroke="#fa3c3c" stroke-width="1"/>
<rect x="976" y="925" width="9" height="35" fill="#339933"/>
<rect x="988" y="926" width="9" height="34" fill="#339933"/>
<rect x="1000" y="906" width="9" height="54" fill="#339933"/>
<rect x="1012" y="920" width="9" height="40" fill="#339933"/>
<rect x="1024.5" y="913.5" width="8" height="46" fill="none" stroke="#fa3c3c" stroke-width="1"/>
<rect x="1037" y="923" width="9" height="37" fill="#339933"/>
<rect x="1049" y="926" width="9" height="34" fill="#339933"/>
<rect x="1061" y="918" width="9" height="42" fill="#339933"/>
<rect x="1073.5" y="919.5" width="8" height="40" fill="none" stroke="#fa3c3c" stroke-width="1"/>
<rect x="1085" y="925" width="9" height="35" fill="#339933"/>
<rect x="1097" y="925" width="9" height="35" fill="#339933"/>
<rect x="1110" y="922" width="9" height="38" fill="#339933"/>
<rect x="1122.5" y="922.5" width="8" height="37" fill="none" stroke="#fa3c3c" stroke-width="1"/>
<rect x="1134" y="913" width="9" height="47" fill="#339933"/>
<rect x="1146.5" y="904.5" width="8" height="55" fill="none" stroke="#fa3c3c" stroke-width="1"/>
<rect x="1158.5" y="877.5" width="8" height="82" fill="none" stroke="#fa3c3c" stroke-width="1"/>
<rect x="1170" y="843" width="9" height="117" fill="#339933"/>
<rect x="1183" y="886" width="9" height="74" fill="#339933"/>
<rect x="1195" y="886" width="9" height="74" fill="#339933"/>
<rect x="1207.5" y="905.5" width="8" height="54" fill="none" stroke="#fa3c3c" stroke-width="1"/>
<rect x="1219.5" y="906.5" width="8" height="53" fill="none" stroke="#fa3c3c" stroke-width="1"/>
<rect x="1231.5" y="916.5" width="8" height="43" fill="none" stroke="#fa3c3c" stroke-width="1"/>
<rect x="1243.5" y="893.5" width="8" height="66" fill="none" stroke="#fa3c3c" stroke-width="1"/>
<rect x="1256" y="921" width="9" height="39" fill="#339933"/>
<rect x="1268.5" y="925.5" width="8" height="34" fill="none" stroke="#fa3c3c" stroke-width="1"/>
<rect x="1280" y="925" width="9" height="35" fill="#339933"/>
<rect x="1292" y="928" width="9" height="32" fill="#339933"/>
<rect x="1304.5" y="935.5" width="8" height="24" fill="none" stroke="#fa3c3c" stroke-width="1"/>
<rect x="1316.5" y="931.5" width="8" height="28" fill="none" stroke="#fa3c3c" stroke-width="1"/>
<rect x="1329.5" y="921.5" width="8" height="38" fill="none" stroke="#fa3c3c" stroke-width="1"/>
<rect x="1341.5" y="890.5" width="8" height="69" fill="none" stroke="#fa3c3c" stroke-width="1"/>
<rect x="1353.5" y="854.5" width="8" height="105" fill="none" stroke="#fa3c3c" stroke-width="1"/>
<rect x="1365.5" y="859.5" width="8" height="100" fill="none" stroke="#fa3c3c" stroke-width="1"/>
<rect x="1377.5" y="866.5" width="8" height="93" fill="none" stroke="#fa3c3c" stroke-width="1"/>
<rect x="1389.5" y="893.5" width="8" height="66" fill="none" stroke="#fa3c3c" stroke-width="1"/>
<rect x="1402.5" y="874.5" width="8" height="85" fill="none" stroke="#fa3c3c" stroke-width="1"/>
<rect x="1414" y="877" width="9" height="83" fill="#339933"/>
<rect x="1426" y="895" width="9" height="65" fill="#339933"/>
<rect x="1438" y="887" width="9" height="73" fill="#339933"/>
<rect x="1450.5" y="856.5" width="8" height="103" fill="none" stroke="#fa3c3c" stroke-width="1"/>
<rect x="1462.5" y="742.5" width="8" height="217" fill="none" stroke="#fa3c3c" stroke-width="1"/>
<rect x="1475" y="841" width="9" height="119" fill="#339933"/>
<rect x="1487.5" y="865.5" width="8" height="94" fill="none" stroke="#fa3c3c" stroke-width="1"/>
<rect x="1499.5" y="875.5" width="8" height="84" fill="none" stroke="#fa3c3c" stroke-width="1"/>
<rect x="1511.5" y="881.5" width="8" height="78" fill="none" stroke="#fa3c3c" stroke-width="1"/>
<rect x="1523.5" y="891.5" width="8" height="68" fill="none" stroke="#fa3c3c" stroke-width="1"/>
<rect x="1535.5" y="877.5" width="8" height="82" fill="none" stroke="#fa3c3c" stroke-width="1"/>
<rect x="1548" y="890" width="9" height="70" fill="#339933"/>
<rect x="1560.5" y="901.5" width="8" height="58" fill="none" stroke="#fa3c3c" stroke-width="1"/>
<rect x="1572" y="906" width="9" height="54" fill="#339933"/>
<rect x="1584.5" y="910.5" width="8" height="49" fill="none" stroke="#fa3c3c" stroke-width="1"/>
<rect x="1596.5" y="907.5" width="8" height="52" fill="none" stroke="#fa3c3c" stroke-width="1"/>
<rect x="1609.5" y="875.5" width="8" height="84" fill="none" stroke="#fa3c3c" stroke-width="1"/>
<rect x="1621" y="870" width="9" height="90" fill="#339933"/>
<rect x="1633" y="899" width="9" height="61" fill="#339933"/>
<rect x="1645.5" y="900.5" width="8" height="59" fill="none" stroke="#fa3c3c" stroke-width="1"/>
<rect x="1657.5" y="895.5" width="8" height="64" fill="none" stroke="#fa3c3c" stroke-width="1"/>
<rect x="1669" y="906" width="9" height="54" fill="#339933"/>
<rect x="1682.5" y="906.5" width="8" height="53" fill="none" stroke="#fa3c3c" stroke-width="1"/>
<rect x="1694.5" y="901.5" width="8" height="58" fill="none" stroke="#fa3c3c" stroke-width="1"/>
<rect x="1706.5" y="892.5" width="8" height="67" fill="none" stroke="#fa3c3c" stroke-width="1"/>
<rect x="1718" y="898" width="9" height="62" fill="#339933"/>
<rect x="1730.5" y="887.5" width="8" height="72" fill="none" stroke="#fa3c3c" stroke-width="1"/>
<rect x="1742" y="848" width="9" height="112" fill="#339933"/>
</g>
<polyline points="6.5,893.5 18.5,887.2 30.5,883.5 43.5,880.5 55.5,878.8 67.5,878.5 79.5,877.8 91.5,878.5 103.5,880.5 116.5,886.1 128.5,898.1 140.5,905.5 152.5,911.0 164.5,915.2 176.5,917.9 189.5,919.8 201.5,922.4 213.5,923.6 225.5,924.2 237.5,924.1 249.5,924.5 262.5,924.4 274.5,922.5 286.5,917.5 298.5,907.6 310.5,902.0 322.5,898.5 335.5,895.3 347.5,892.8 359.5,891.7 371.5,890.0 383.5,889.9 396.5,891.4 408.5,896.5 420.5,906.4 432.5,913.0 444.5,916.9 456.5,920.3 469.5,922.7 481.5,924.8 493.5,926.8 505.5,927.6 517.5,925.2 529.5,924.4 542.5,923.0 554.5,919.8 566.5,916.2 578.5,910.2 590.5,897.3 602.5,889.9 615.5,885.5 627.5,882.4 639.5,882.8 651.5,881.0 663.5,880.8 675.5,881.5 688.5,883.5 700.5,888.6 712.5,901.9 724.5,908.9 736.5,913.1 748.5,915.8 761.5,916.9 773.5,918.2 785.5,918.7 797.5,918.7 809.5,917.3 821.5,916.2 834.5,915.7 846.5,914.8 858.5,912.5 870.5,906.0 882.5,895.8 894.5,889.8 907.5,886.8 919.5,884.8 931.5,884.2 943.5,882.9 955.5,881.6 967.5,882.4 980.5,885.0 992.5,891.8 1004.5,901.1 1016.5,907.4 1028.5,910.4 1041.5,913.7 1053.5,916.7 1065.5,918.9 1077.5,920.0 1089.5,920.1 1101.5,920.1 1114.5,919.7 1126.5,921.3 1138.5,920.6 1150.5,919.7 1162.5,915.1 1174.5,906.8 1187.5,903.6 1199.5,900.3 1211.5,898.3 1223.5,896.4 1235.5,895.8 1247.5,892.9 1260.5,893.7 1272.5,895.8 1284.5,900.6 1296.5,909.1 1308.5,914.0 1320.5,918.5 1333.5,920.1 1345.5,918.5 1357.5,912.3 1369.5,908.9 1381.5,903.4 1393.5,900.2 1406.5,895.1 1418.5,890.0 1430.5,886.0 1442.5,881.6 1454.5,875.1 1466.5,860.3 1479.5,859.0 1491.5,859.6 1503.5,860.5 1515.5,859.3 1527.5,861.0 1539.5,861.0 1552.5,860.5 1564.5,861.9 1576.5,866.9 1588.5,883.7 1600.5,890.3 1613.5,891.3 1625.5,890.8 1637.5,892.6 1649.5,893.5 1661.5,895.3 1673.5,896.9 1686.5,897.4 1698.5,896.9 1710.5,895.1 1722.5,894.2 1734.5,895.4 1746.5,893.2" fill="none" stroke="#8a1a8a" stroke-width="1" stroke-linejoin="round"/>
<polyline points="6.5,873.5 18.5,860.2 30.5,854.5 43.5,853.2 55.5,860.2 67.5,882.0 79.5,893.0 91.5,901.4 103.5,907.4 116.5,912.0 128.5,914.2 140.5,918.0 152.5,920.6 164.5,923.0 176.5,923.8 189.5,925.4 201.5,926.8 213.5,926.6 225.5,925.4 237.5,924.4 249.5,923.6 262.5,922.0 274.5,918.4 286.5,909.6 298.5,890.8 310.5,880.4 322.5,875.0 335.5,872.2 347.5,876.0 359.5,892.6 371.5,899.6 383.5,904.8 396.5,910.6 408.5,917.0 420.5,920.2 432.5,926.4 444.5,929.0 456.5,930.0 469.5,928.4 481.5,929.4 493.5,927.2 505.5,926.2 517.5,920.4 529.5,920.4 542.5,916.6 554.5,912.4 566.5,906.2 578.5,900.0 590.5,874.2 602.5,863.2 615.5,858.6 627.5,858.6 639.5,865.6 651.5,887.8 663.5,898.4 675.5,904.4 688.5,908.4 700.5,911.6 712.5,916.0 724.5,919.4 736.5,921.8 748.5,923.2 761.5,922.2 773.5,920.4 785.5,918.0 797.5,915.6 809.5,911.4 821.5,910.2 834.5,911.0 846.5,911.6 858.5,909.4 870.5,900.6 882.5,881.4 894.5,868.6 907.5,862.0 919.5,860.2 931.5,867.8 943.5,884.4 955.5,894.6 967.5,902.8 980.5,909.8 992.5,915.8 1004.5,917.8 1016.5,920.2 1028.5,918.0 1041.5,917.6 1053.5,917.6 1065.5,920.0 1077.5,919.8 1089.5,922.2 1101.5,922.6 1114.5,921.8 1126.5,922.6 1138.5,921.4 1150.5,917.2 1162.5,907.6 1174.5,891.8 1187.5,884.6 1199.5,879.2 1211.5,879.4 1223.5,885.2 1235.5,899.8 1247.5,901.2 1260.5,908.2 1272.5,912.2 1284.5,916.0 1296.5,918.4 1308.5,926.8 1320.5,928.8 1333.5,928.0 1345.5,921.0 1357.5,906.2 1369.5,891.0 1381.5,878.0 1393.5,872.4 1406.5,869.2 1418.5,873.8 1430.5,881.0 1442.5,885.2 1454.5,877.8 1466.5,851.4 1479.5,844.2 1491.5,838.2 1503.5,835.8 1515.5,840.8 1527.5,870.6 1539.5,877.8 1552.5,882.8 1564.5,888.0 1576.5,893.0 1588.5,896.8 1600.5,902.8 1613.5,899.8 1625.5,893.6 1637.5,892.2 1649.5,890.2 1661.5,887.8 1673.5,894.0 1686.5,901.2 1698.5,901.6 1710.5,900.0 1722.5,900.6 1734.5,896.8 1746.5,885.2" fill="none" stroke="#1f82d8" stroke-width="1" stroke-linejoin="round"/>
<polygon points="1418.8,180.9 1493.9,214.8 1569.0,248.7 1570.9,244.5 1495.0,212.3 1419.2,180.1" fill="#ff1fff"/>
<polygon points="1576.8,249.6 1566.3,250.0 1569.9,241.6" fill="#ff1fff"/>
<polygon points="1200.0,696.2 1258.5,559.7 1287.0,494.1 1367.4,307.0 1417.3,190.7 1413.4,189.0 1364.0,305.5 1284.6,493.0 1257.0,559.0 1199.0,695.8" fill="#3558d0"/>
<polygon points="1418.5,182.5 1419.4,193.7 1409.8,189.7" fill="#3558d0"/>
<polygon points="1419.0,182.7 1440.2,262.1 1461.6,341.4 1466.1,340.2 1442.9,261.3 1419.6,182.5" fill="#3558d0"/>
<polygon points="1466.0,348.5 1458.3,340.3 1468.3,337.5" fill="#3558d0"/>
<polygon points="1469.0,351.4 1504.0,261.3 1538.8,171.1 1534.4,169.5 1501.3,260.3 1468.4,351.2" fill="#3558d0"/>
<polygon points="1539.4,162.8 1540.8,174.0 1531.0,170.3" fill="#3558d0"/>
<polygon points="1539.5,164.1 1555.2,202.9 1571.1,241.6 1575.4,239.7 1557.8,201.8 1540.1,163.9" fill="#3558d0"/>
<polygon points="1576.4,248.0 1567.6,240.9 1577.2,236.8" fill="#3558d0"/>
<polygon points="1577.3,249.1 1601.5,161.8 1625.5,74.5 1621.0,73.3 1598.8,161.1 1576.7,248.9" fill="#3558d0"/>
<polygon points="1625.3,66.2 1627.8,77.2 1617.7,74.5" fill="#3558d0"/>
<polygon points="1626.8,68.6 1635.8,96.7 1645.0,124.8 1649.4,123.2 1638.5,95.8 1627.4,68.4" fill="#3558d0"/>
<polygon points="1649.9,131.5 1641.6,123.9 1651.4,120.3" fill="#3558d0"/>
<polygon points="1651.1,131.7 1680.0,81.1 1708.8,30.5 1704.7,28.3 1677.5,79.8 1650.5,131.3" fill="#3558d0"/>
<polygon points="1710.6,22.4 1710.4,33.7 1701.2,28.7" fill="#3558d0"/>
<g font-family="'Liberation Sans','Noto Sans CJK SC',sans-serif" font-size="12">
<text x="2.5" y="15.5" fill="#333" textLength="41" lengthAdjust="spacing">999999</text>
<text x="46.8" y="15.5" fill="#333" textLength="132.4" lengthAdjust="spacing">上证指数(10分钟.前复权)</text>
<text x="183.2" y="15" fill="#222" stroke="#222" stroke-width="0.35" font-size="9.5">▽</text>
<text x="1835.5" y="48" fill="#6a6a6a" text-anchor="end">2860</text>
<text x="1835.5" y="111" fill="#6a6a6a" text-anchor="end">2850</text>
<text x="1835.5" y="171" fill="#6a6a6a" text-anchor="end">2840</text>
<text x="1835.5" y="234" fill="#6a6a6a" text-anchor="end">2830</text>
<text x="1835.5" y="294" fill="#6a6a6a" text-anchor="end">2820</text>
<text x="1835.5" y="357" fill="#6a6a6a" text-anchor="end">2810</text>
<text x="1835.5" y="418" fill="#6a6a6a" text-anchor="end">2800</text>
<text x="1835.5" y="480" fill="#6a6a6a" text-anchor="end">2790</text>
<text x="1835.5" y="541" fill="#6a6a6a" text-anchor="end">2780</text>
<text x="1835.5" y="603" fill="#6a6a6a" text-anchor="end">2770</text>
<text x="1835.5" y="664" fill="#6a6a6a" text-anchor="end">2760</text>
<text x="1835.5" y="766" fill="#6a6a6a" text-anchor="end">20000</text>
<text x="1835.5" y="792" fill="#6a6a6a" text-anchor="end">17500</text>
<text x="1835.5" y="816" fill="#6a6a6a" text-anchor="end">15000</text>
<text x="1835.5" y="842" fill="#6a6a6a" text-anchor="end">12500</text>
<text x="1835.5" y="865" fill="#6a6a6a" text-anchor="end">10000</text>
<text x="1835.5" y="891" fill="#6a6a6a" text-anchor="end">7500</text>
<text x="1835.5" y="914" fill="#6a6a6a" text-anchor="end">5000</text>
<text x="1793" y="960" fill="#777">X100</text>
<rect x="1792" y="964" width="48" height="15" fill="#ffffff"/>
<text x="1796.5" y="975.5" fill="#111">10分钟</text>
<text x="6.5" y="976" fill="#777">07月16日</text>
<text x="80" y="976" fill="#777">10:40</text>
<text x="153" y="976" fill="#777">13:10</text>
<text x="226" y="976" fill="#777">14:10</text>
<text x="299" y="976" fill="#777">09:40</text>
<text x="372" y="976" fill="#777">10:40</text>
<text x="445" y="976" fill="#777">13:10</text>
<text x="518" y="976" fill="#777">14:10</text>
<text x="591" y="976" fill="#777">09:40</text>
<text x="664" y="976" fill="#777">10:40</text>
<text x="737" y="976" fill="#777">13:10</text>
<text x="810" y="976" fill="#777">14:10</text>
<text x="883" y="976" fill="#777">09:40</text>
<text x="956" y="976" fill="#777">10:40</text>
<text x="1029" y="976" fill="#777">13:10</text>
<text x="1102" y="976" fill="#777">14:10</text>
<text x="1175" y="976" fill="#777">09:40</text>
<text x="1248" y="976" fill="#777">10:40</text>
<text x="1321" y="976" fill="#777">13:10</text>
<text x="1394" y="976" fill="#777">14:10</text>
<text x="1467" y="976" fill="#777">09:40</text>
<text x="1540" y="976" fill="#777">10:40</text>
<text x="1614" y="976" fill="#777">13:10</text>
<text x="1687" y="976" fill="#777">14:10</text>
<text x="1.5" y="734.5" fill="#222" stroke="#222" stroke-width="0.35" font-size="9.5">▽</text>
<text x="13" y="735" fill="#333" textLength="81.5" lengthAdjust="spacingAndGlyphs">VOL-TDX(5,10)</text>
<text x="100.5" y="735" fill="#333" textLength="101" lengthAdjust="spacingAndGlyphs">VVOL: 1120968.00</text>
<text x="211.5" y="735" fill="#1a78d0" textLength="121" lengthAdjust="spacingAndGlyphs">VOLUME: 1120968.00</text>
<text x="339" y="735" fill="#1a78d0" textLength="86.5" lengthAdjust="spacingAndGlyphs">MA5: 745899.63</text>
<text x="431.5" y="735" fill="#860086" textLength="94.5" lengthAdjust="spacingAndGlyphs">MA10: 663518.63</text>
<text x="1212.5" y="703" fill="#333" textLength="43.5" lengthAdjust="spacingAndGlyphs">2753.92</text>
<text x="1725" y="32" fill="#333">2863.39</text>
</g>
<g stroke="#333" stroke-width="1" fill="none">
<path d="M1199.5 698.5 H1211 M1199.5 698.5 l3 -3 M1199.5 698.5 l3 3"/>
<path d="M1711 23.5 L1723 26.5 M1711 23.5 l3.5 -1.5 M1711 23.5 l2 3"/>
</g>
<g font-family="'Liberation Serif','Noto Serif CJK SC',serif" font-size="15" fill="#111" text-anchor="middle">
<text x="1201" y="716">0</text>
<text x="1419" y="175">1</text>
<text x="1575" y="270.3">2</text>
<text x="1624" y="60">3</text>
<text x="1651" y="146.3">4</text>
<text x="1712" y="18.4">5</text>
</g>
<g stroke="#c0c0c0" stroke-width="1" fill="none">
<path d="M1766.5 6 L1771.5 11.5 L1766.5 17 L1761.5 11.5 Z"/>
<path d="M1780.5 8.5 V6.5 H1787.5 V13.5 H1785.5"/>
<rect x="1778.5" y="8.5" width="7" height="7"/>
</g>
</svg>
</body></html>
